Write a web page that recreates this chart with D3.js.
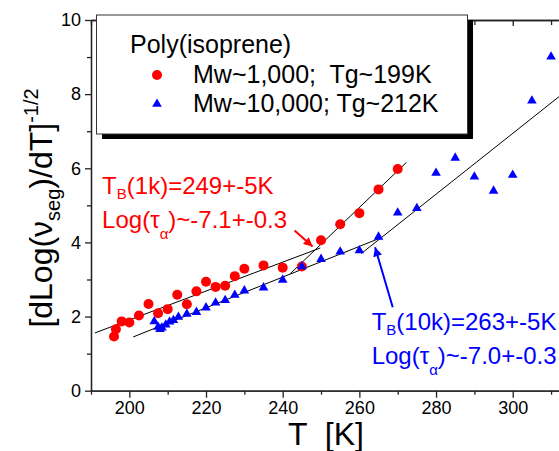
<!DOCTYPE html>
<html>
<head>
<meta charset="utf-8">
<script src="https://cdn.jsdelivr.net/npm/d3@7"></script>
<style>
  body { margin: 0; background: #fff; }
  svg { display: block; font-family: 'Liberation Sans', Arial, sans-serif; }
  .tick text { font-family: 'Liberation Sans', Arial, sans-serif; }
</style>
</head>
<body>
<svg id="chart" width="559" height="451"></svg>
<script>
// Mw~1,000 (red circles)
const redT = [196, 196.5, 198, 200, 202.5, 205, 207.5, 210, 212.5, 215, 217.5, 220, 222.5, 225, 227.5, 230, 235, 240, 245, 250, 255, 260, 265, 270];
const redY = [1.46, 1.66, 1.87, 1.84, 2.03, 2.34, 2.09, 2.2, 2.59, 2.33, 2.68, 2.94, 2.8, 2.83, 3.09, 3.29, 3.38, 3.32, 3.35, 4.06, 4.49, 4.79, 5.43, 5.98];

// Mw~10,000 (blue triangles)
const blueT = [206.5, 207.5, 208, 208.5, 209.5, 210.5, 211.5, 212.8, 215, 217.5, 220, 222.5, 225, 227.5, 230, 235, 240, 245, 250, 255, 260, 265, 270, 275, 280, 285, 290, 295, 300, 305, 310];
const blueY = [1.87, 1.72, 1.66, 1.70, 1.78, 1.86, 1.90, 1.99, 2.07, 2.12, 2.24, 2.37, 2.44, 2.58, 2.70, 2.78, 2.99, 3.35, 3.55, 3.75, 3.78, 4.15, 4.80, 4.92, 5.87, 6.28, 5.77, 5.39, 5.82, 7.82, 9.01];

// straight fits, [T, y] end points
const redLowFit = [[191, 1.557], [249.8, 3.85]];
const redHighFit = [[242, 3.16], [272.3, 6.16]];
const blueLowFit = [[201, 1.45], [265, 4.10]];
const blueHighFit = [[260.5, 3.70], [314, 8.09]];

// arrows, [tail, tip]
const redArrow = [[243.1, 4.32], [247.8, 3.89]];
const blueArrow = [[268.7, 2.25], [264.1, 3.87]];

const xMajor = [200, 220, 240, 260, 280, 300, 320];
const xMinor = [190, 210, 230, 250, 270, 290, 310];
const yMajor = [0, 2, 4, 6, 8, 10];
const yMinor = [1, 3, 5, 7, 9];

const legendTitle = 'Poly(isoprene)';
const legendLabels = ['Mw~1,000;  Tg~199K', 'Mw~10,000; Tg~212K'];

const red = '#ff0000';
const blue = '#0000ff';

const svg = d3.select('#chart');
const x = d3.scaleLinear().domain([190, 320]).range([91, 589.4]);
const y = d3.scaleLinear().domain([0, 10]).range([390.7, 20]);

// axes
function axisStyle(g) {
  g.selectAll('path, line').attr('stroke', '#222').attr('stroke-width', 1.3);
  g.selectAll('text').attr('font-size', 18).attr('fill', '#000');
}

svg.append('g')
  .attr('transform', `translate(0,${y(0)})`)
  .call(d3.axisBottom(x).tickValues(xMajor).tickSize(7).tickSizeOuter(0).tickPadding(4).tickFormat(d3.format('d')))
  .call(axisStyle);
svg.append('g')
  .attr('transform', `translate(0,${y(0)})`)
  .call(d3.axisBottom(x).tickValues(xMinor).tickSize(4).tickSizeOuter(0).tickFormat(''))
  .call(axisStyle);

// top frame, ticks pointing in
svg.append('g')
  .attr('transform', `translate(0,${y(10)})`)
  .call(d3.axisBottom(x).tickValues(xMajor).tickSize(6).tickSizeOuter(0).tickFormat(''))
  .call(axisStyle);
svg.append('g')
  .attr('transform', `translate(0,${y(10)})`)
  .call(d3.axisBottom(x).tickValues(xMinor).tickSize(5).tickSizeOuter(0).tickFormat(''))
  .call(axisStyle);

svg.append('g')
  .attr('transform', `translate(${x(190)},0)`)
  .call(d3.axisLeft(y).tickValues(yMajor).tickSize(6).tickSizeOuter(0).tickPadding(4).tickFormat(d3.format('d')))
  .call(axisStyle);
svg.append('g')
  .attr('transform', `translate(${x(190)},0)`)
  .call(d3.axisLeft(y).tickValues(yMinor).tickSize(4).tickSizeOuter(0).tickFormat(''))
  .call(axisStyle);

// axis titles
const yTitle = svg.append('text')
  .attr('transform', 'translate(52,208) rotate(-90)')
  .attr('text-anchor', 'middle')
  .attr('font-size', 32)
  .attr('fill', '#000');
yTitle.append('tspan').text('[dLog(ν');
yTitle.append('tspan').attr('font-size', 20).attr('dy', 8).text('seg');
yTitle.append('tspan').attr('dy', -8).text(')/dT]');
yTitle.append('tspan').attr('font-size', 20).attr('dy', -14).text('-1/2');

svg.append('text')
  .attr('x', 326).attr('y', 445)
  .attr('text-anchor', 'middle')
  .attr('font-size', 32)
  .style('white-space', 'pre')
  .text('T  [K]');

// fit lines
const line = d3.line().x(d => x(d[0])).y(d => y(d[1]));
[redLowFit, redHighFit, blueLowFit, blueHighFit].forEach((fit) => {
  svg.append('path')
    .attr('d', line(fit))
    .attr('fill', 'none')
    .attr('stroke', '#000')
    .attr('stroke-width', 1);
});

// points
svg.selectAll('circle.red-point')
  .data(redT.map((t, i) => [t, redY[i]]))
  .enter()
  .append('circle')
  .classed('red-point', true)
  .attr('cx', d => x(d[0]))
  .attr('cy', d => y(d[1]))
  .attr('r', 5)
  .attr('fill', red);

const tri = d3.symbol().type(d3.symbolTriangle).size(40);
svg.selectAll('path.blue-point')
  .data(blueT.map((t, i) => [t, blueY[i]]))
  .enter()
  .append('path')
  .classed('blue-point', true)
  .attr('d', tri)
  .attr('transform', d => `translate(${x(d[0])},${y(d[1])})`)
  .attr('fill', blue);

// arrows
const defs = svg.append('defs');
[['red-head', red], ['blue-head', blue]].forEach(([id, color]) => {
  defs.append('marker')
    .attr('id', id)
    .attr('viewBox', '0 0 10 10')
    .attr('refX', 10).attr('refY', 5)
    .attr('markerUnits', 'userSpaceOnUse')
    .attr('markerWidth', 11).attr('markerHeight', 9)
    .attr('orient', 'auto')
    .append('path')
    .attr('d', 'M0,0L10,5L0,10Z')
    .attr('fill', color);
});
[[redArrow, red, 'red-head'], [blueArrow, blue, 'blue-head']].forEach(([a, color, id]) => {
  svg.append('line')
    .attr('x1', x(a[0][0])).attr('y1', y(a[0][1]))
    .attr('x2', x(a[1][0])).attr('y2', y(a[1][1]))
    .attr('stroke', color)
    .attr('stroke-width', 2)
    .attr('marker-end', `url(#${id})`);
});

// annotations
function annotate(t, v, color, who, tb, tau) {
  const g = svg.append('g').attr('fill', color).attr('font-size', 24);
  const l1 = g.append('text').attr('x', x(t)).attr('y', y(v));
  l1.append('tspan').text('T');
  l1.append('tspan').attr('font-size', 15).attr('dy', 5).text('B');
  l1.append('tspan').attr('dy', -5).text(`(${who})=${tb}+-5K`);
  const l2 = g.append('text').attr('x', x(t)).attr('y', y(v) + 34);
  l2.append('tspan').text('Log(τ');
  l2.append('tspan').attr('font-size', 15).attr('dy', 11).text('α');
  l2.append('tspan').attr('dy', -11).text(`)~${tau}+-0.3`);
}
annotate(192.9, 5.31, red, '1k', 249, '-7.1');
annotate(263.2, 1.64, blue, '10k', 263, '-7.0');

// legend
const lg = svg.append('g');
lg.append('rect')
  .attr('x', 102).attr('y', 20).attr('width', 371).attr('height', 119)
  .attr('fill', '#000');
lg.append('rect')
  .attr('x', 96.5).attr('y', 15).attr('width', 371).attr('height', 119)
  .attr('fill', '#fff').attr('stroke', '#333').attr('stroke-width', 1);
lg.append('text')
  .attr('x', 130).attr('y', 53)
  .attr('font-size', 25)
  .text(legendTitle);
lg.append('circle').attr('cx', 157).attr('cy', 75).attr('r', 5).attr('fill', red);
lg.append('path').attr('d', tri).attr('transform', 'translate(157,104)').attr('fill', blue);
legendLabels.forEach((label, i) => {
  lg.append('text')
    .attr('x', 193).attr('y', 83 + i * 29)
    .attr('font-size', 25)
    .style('white-space', 'pre')
    .text(label);
});
</script>
</body>
</html>
